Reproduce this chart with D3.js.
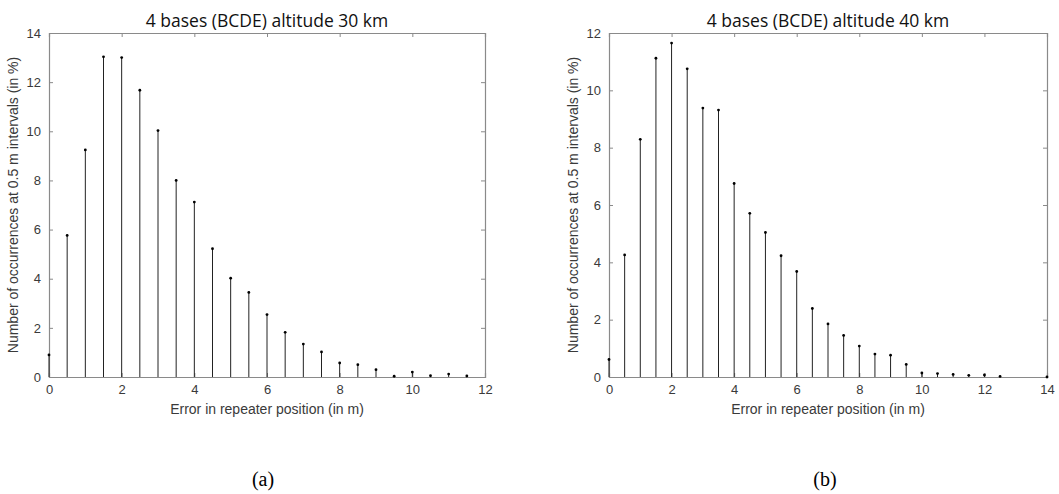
<!DOCTYPE html>
<html>
<head>
<meta charset="utf-8">
<script src="https://cdn.jsdelivr.net/npm/d3@7"></script>
<style>
  html, body { margin: 0; padding: 0; background: #fff; }
  svg { display: block; }
</style>
</head>
<body>
<svg id="chart" width="1059" height="494"></svg>
<script>
// ---- Data ----
const titleA = "4 bases (BCDE) altitude 30 km";
const titleB = "4 bases (BCDE) altitude 40 km";
const xLabel = "Error in repeater position (in m)";
const yLabel = "Number of occurrences at 0.5 m intervals (in %)";
const captionA = "(a)";
const captionB = "(b)";

const xA = [0, 0.5, 1, 1.5, 2, 2.5, 3, 3.5, 4, 4.5, 5, 5.5, 6, 6.5, 7, 7.5, 8, 8.5, 9, 9.5, 10, 10.5, 11, 11.5];
const yA = [0.9, 5.76, 9.24, 13.03, 13.0, 11.67, 10.03, 8.0, 7.12, 5.22, 4.02, 3.44, 2.54, 1.82, 1.34, 1.02, 0.57, 0.5, 0.3, 0.03, 0.2, 0.05, 0.12, 0.04];

const xB = [0, 0.5, 1, 1.5, 2, 2.5, 3, 3.5, 4, 4.5, 5, 5.5, 6, 6.5, 7, 7.5, 8, 8.5, 9, 9.5, 10, 10.5, 11, 11.5, 12, 12.5, 14];
const yB = [0.61, 4.26, 8.29, 11.12, 11.65, 10.75, 9.38, 9.31, 6.75, 5.71, 5.04, 4.23, 3.68, 2.39, 1.85, 1.45, 1.08, 0.8, 0.76, 0.44, 0.14, 0.12, 0.09, 0.06, 0.07, 0.02, 0.0];

const xTicksA = [0, 2, 4, 6, 8, 10, 12];
const yTicksA = [0, 2, 4, 6, 8, 10, 12, 14];
const xTicksB = [0, 2, 4, 6, 8, 10, 12, 14];
const yTicksB = [0, 2, 4, 6, 8, 10, 12];

const svg = d3.select("#chart");

function panel(cfg) {
  const g = svg.append("g");
  const x = d3.scaleLinear().domain(cfg.xDomain).range([cfg.left, cfg.right]);
  const y = d3.scaleLinear().domain(cfg.yDomain).range([cfg.bottom, cfg.top]);
  const axisColor = "#8a8a8a";
  const textColor = "#3a3a3a";
  const tickLen = 4;
  const fontTick = "13px 'Liberation Sans', Arial, sans-serif";

  const xAxisB = d3.axisBottom(x).tickValues(cfg.xTicks).tickSize(-tickLen).tickPadding(8).tickFormat(d3.format("d"));
  const xAxisT = d3.axisTop(x).tickValues(cfg.xTicks).tickSize(-tickLen).tickFormat("");
  const yAxisL = d3.axisLeft(y).tickValues(cfg.yTicks).tickSize(-tickLen).tickPadding(8).tickFormat(d3.format("d"));
  const yAxisR = d3.axisRight(y).tickValues(cfg.yTicks).tickSize(-tickLen).tickFormat("");

  const gx = g.append("g").attr("transform", `translate(0,${cfg.bottom})`).call(xAxisB);
  const gxt = g.append("g").attr("transform", `translate(0,${cfg.top})`).call(xAxisT);
  const gy = g.append("g").attr("transform", `translate(${cfg.left},0)`).call(yAxisL);
  const gyr = g.append("g").attr("transform", `translate(${cfg.right},0)`).call(yAxisR);
  [gx, gxt, gy, gyr].forEach(a => {
    a.selectAll(".domain").attr("stroke", axisColor).attr("stroke-width", 1.2);
    a.selectAll(".tick line").attr("stroke", axisColor);
    a.selectAll(".tick text").attr("fill", textColor).style("font", fontTick);
  });

  const pts = cfg.xs.map((v, i) => ({ x: v, y: cfg.ys[i] }));
  g.append("g").selectAll("line").data(pts).join("line")
    .attr("x1", d => x(d.x)).attr("x2", d => x(d.x))
    .attr("y1", y(0)).attr("y2", d => y(d.y))
    .attr("stroke", "#222").attr("stroke-width", 1);
  g.append("g").selectAll("circle").data(pts).join("circle")
    .attr("cx", d => x(d.x)).attr("cy", d => y(d.y)).attr("r", 1.4)
    .attr("fill", "#000");

  g.append("text").attr("x", (cfg.left + cfg.right) / 2).attr("y", cfg.top - 6)
    .attr("text-anchor", "middle").attr("fill", "#111")
    .style("font", "17.5px 'Open Sans', 'Noto Sans', sans-serif")
    .text(cfg.title);
  g.append("text").attr("x", (cfg.left + cfg.right) / 2).attr("y", cfg.bottom + 37)
    .attr("text-anchor", "middle").attr("fill", textColor)
    .style("font", "14px 'Liberation Sans', Arial, sans-serif")
    .text(xLabel);
  g.append("text")
    .attr("transform", `translate(${cfg.left - 31},${(cfg.top + cfg.bottom) / 2}) rotate(-90)`)
    .attr("text-anchor", "middle").attr("fill", textColor)
    .style("font", "14px 'Liberation Sans', Arial, sans-serif")
    .text(yLabel);
  g.append("text").attr("x", cfg.capX).attr("y", cfg.capY)
    .attr("text-anchor", "middle").attr("fill", "#000")
    .style("font", "20px 'Liberation Serif', 'Times New Roman', serif")
    .text(cfg.caption);
}

panel({
  left: 49, right: 485, top: 33, bottom: 377,
  xDomain: [0, 12], yDomain: [0, 14],
  xTicks: xTicksA, yTicks: yTicksA,
  xs: xA, ys: yA, title: titleA, caption: captionA, capX: 263, capY: 486
});
panel({
  left: 609, right: 1047, top: 33, bottom: 377,
  xDomain: [0, 14], yDomain: [0, 12],
  xTicks: xTicksB, yTicks: yTicksB,
  xs: xB, ys: yB, title: titleB, caption: captionB, capX: 825, capY: 486
});
</script>
</body>
</html>
